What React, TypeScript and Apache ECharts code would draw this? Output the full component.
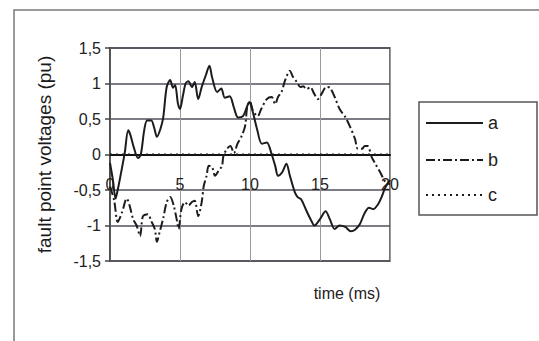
import React, { useEffect, useRef } from "react";
import * as echarts from "echarts";

const xTicks = [0, 5, 10, 15, 20];
const yTicks = [-1.5, -1, -0.5, 0, 0.5, 1, 1.5];

const aTime = [0.0, 0.2, 0.4, 0.55, 0.75, 1.05, 1.3, 1.45, 1.7, 2.0, 2.2, 2.45, 2.65, 2.95, 3.15, 3.35, 3.6, 3.8, 4.05, 4.3, 4.5, 4.65, 4.85, 5.0, 5.2, 5.4, 5.6, 5.85, 6.05, 6.3, 6.55, 6.85, 7.1, 7.3, 7.65, 7.95, 8.2, 8.55, 8.85, 9.15, 9.5, 9.8, 9.95, 10.2, 10.5, 10.85, 11.2, 11.55, 11.8, 12.0, 12.3, 12.6, 12.85, 13.2, 13.4, 13.65, 14.05, 14.4, 14.6, 15.0, 15.4, 15.7, 16.05, 16.4, 16.8, 17.2, 17.5, 17.85, 18.15, 18.5, 18.8, 19.15, 19.4, 19.65, 20.0];
const aValues = [-0.12, -0.35, -0.62, -0.5, -0.3, 0.02, 0.34, 0.28, 0.1, -0.05, 0.0, 0.35, 0.48, 0.48, 0.38, 0.25, 0.36, 0.52, 0.95, 1.05, 0.94, 0.98, 0.72, 0.64, 0.82, 1.0, 1.03, 0.95, 1.02, 0.78, 0.95, 1.12, 1.25, 1.08, 0.88, 0.93, 0.8, 0.82, 0.66, 0.52, 0.54, 0.68, 0.74, 0.6, 0.36, 0.15, 0.17, 0.0, -0.16, -0.3, -0.25, -0.13, -0.3, -0.53, -0.6, -0.63, -0.8, -0.94, -1.0, -0.91, -0.8, -0.91, -1.05, -1.0, -1.02, -1.08, -1.06, -0.98, -0.84, -0.75, -0.77, -0.7, -0.6, -0.47, -0.36];

const bTime = [0.0, 0.3, 0.55, 0.85, 1.2, 1.4, 1.65, 1.9, 2.15, 2.35, 2.7, 2.95, 3.2, 3.35, 3.55, 3.8, 4.05, 4.3, 4.55, 4.8, 4.9, 5.1, 5.35, 5.6, 5.85, 6.05, 6.3, 6.55, 6.7, 6.9, 7.05, 7.3, 7.5, 7.75, 8.0, 8.1, 8.35, 8.6, 8.85, 9.1, 9.4, 9.65, 9.8, 10.0, 10.2, 10.55, 10.8, 11.2, 11.55, 11.8, 12.0, 12.25, 12.5, 12.85, 13.05, 13.35, 13.6, 13.8, 14.05, 14.3, 14.6, 14.85, 15.1, 15.45, 15.7, 16.05, 16.4, 16.8, 17.15, 17.5, 17.7, 18.0, 18.2, 18.4, 18.7, 18.95, 19.3, 19.65, 20.0];
const bValues = [-0.45, -0.65, -0.95, -0.82, -0.62, -0.72, -0.91, -1.0, -1.15, -0.87, -0.84, -0.94, -1.05, -1.23, -1.09, -0.9, -0.67, -0.6, -0.72, -0.95, -1.05, -0.77, -0.67, -0.72, -0.67, -0.65, -0.87, -0.67, -0.44, -0.3, -0.16, -0.18, -0.3, -0.23, -0.16, -0.02, 0.08, 0.12, 0.02, 0.15, 0.26, 0.4, 0.67, 0.75, 0.62, 0.54, 0.64, 0.78, 0.81, 0.71, 0.81, 0.88, 1.04, 1.18, 1.1, 1.02, 0.95, 0.96, 0.92, 0.95, 0.85, 0.78, 0.85, 0.95, 0.94, 0.81, 0.64, 0.53, 0.39, 0.22, 0.08, 0.08, 0.12, 0.12, -0.04, -0.13, -0.25, -0.38, -0.42];

const cTime = [0, 5, 10, 15, 20];
const cValues = [0, 0, 0, 0, 0];

const seriesNames = ["a", "b", "c"];
const dashA: number[] | null = null;
const dashB = [9, 3, 2, 3];
const dashC = [2, 4];

const pairs = (t: number[], v: number[]) => t.map((x, i) => [x, v[i]]);

export default function App() {
  const ref = useRef<HTMLDivElement>(null);
  useEffect(() => {
    if (!ref.current) return;
    const chart = echarts.init(ref.current, null, { renderer: "svg" });
    const font = "'Liberation Sans', Arial, sans-serif";
    const ink = "#1c1c1c";
    const legendX = 426;
    const legendRows = [123, 160, 195];
    const dashes = [dashA, dashB, dashC];
    const legendGraphics: any[] = [
      {
        type: "rect",
        shape: { x: 419, y: 102, width: 118, height: 113 },
        style: { fill: "#fff", stroke: "#555", lineWidth: 1.5 },
        silent: true,
      },
    ];
    seriesNames.forEach((name, i) => {
      legendGraphics.push({
        type: "line",
        shape: { x1: legendX, y1: legendRows[i], x2: legendX + 57, y2: legendRows[i] },
        style: { stroke: ink, lineWidth: 2, lineDash: dashes[i] || undefined },
        silent: true,
      });
      legendGraphics.push({
        type: "text",
        x: legendX + 62,
        y: legendRows[i],
        style: {
          text: name,
          fontSize: 18,
          fill: "#222",
          fontFamily: font,
          textVerticalAlign: "middle",
        },
      });
    });
    chart.setOption({
      animation: false,
      backgroundColor: "#ffffff",
      textStyle: { fontFamily: font },
      grid: {
        left: 110,
        right: 149,
        top: 48,
        bottom: 80,
        show: true,
        borderColor: "#444",
        borderWidth: 1.5,
      },
      xAxis: {
        type: "value",
        min: xTicks[0],
        max: xTicks[xTicks.length - 1],
        interval: 5,
        offset: -106.5,
        axisLine: { show: true, onZero: false, lineStyle: { color: "#111", width: 2 } },
        axisTick: { show: false },
        axisLabel: { fontSize: 16, color: "#222", margin: 22, fontFamily: font },
        splitLine: { show: true, lineStyle: { color: "#9a9a9a", width: 1 } },
      },
      yAxis: {
        type: "value",
        min: yTicks[0],
        max: yTicks[yTicks.length - 1],
        interval: 0.5,
        name: "fault point voltages (pu)",
        nameLocation: "middle",
        nameGap: 56,
        nameTextStyle: { fontSize: 19, color: "#1a1a1a", fontFamily: font },
        axisLine: { show: true, onZero: false, lineStyle: { color: "#444", width: 1.5 } },
        axisTick: { show: true, length: 5, lineStyle: { color: "#444", width: 1.5 } },
        axisLabel: {
          fontSize: 16,
          color: "#222",
          margin: 9,
          fontFamily: font,
          formatter: (v: number) => String(v).replace(".", ","),
        },
        splitLine: { show: true, lineStyle: { color: "#50505c", width: 1.5 } },
      },
      graphic: [
        {
          type: "rect",
          shape: { x: 14, y: 10, width: 700, height: 500 },
          style: { fill: "none", stroke: "#7a7a7a", lineWidth: 1.5 },
          silent: true,
        },
        {
          type: "text",
          x: 347,
          y: 293,
          style: {
            text: "time (ms)",
            fontSize: 16,
            fill: "#222",
            fontFamily: font,
            textAlign: "center",
            textVerticalAlign: "middle",
          },
        },
        ...legendGraphics,
      ],
      series: [
        {
          name: seriesNames[0],
          type: "line",
          data: pairs(aTime, aValues),
          showSymbol: false,
          symbol: "none",
          smooth: 0.3,
          lineStyle: { color: ink, width: 2, type: "solid" },
          z: 4,
        },
        {
          name: seriesNames[1],
          type: "line",
          data: pairs(bTime, bValues),
          showSymbol: false,
          symbol: "none",
          smooth: 0.3,
          lineStyle: { color: ink, width: 2, type: dashB },
          z: 3,
        },
        {
          name: seriesNames[2],
          type: "line",
          data: pairs(cTime, cValues),
          showSymbol: false,
          symbol: "none",
          lineStyle: { color: ink, width: 2, type: dashC },
          z: 2,
        },
      ],
    });
    return () => chart.dispose();
  }, []);
  return (
    <div
      ref={ref}
      style={{ position: "fixed", left: 0, top: 0, width: 539, height: 341, background: "#fff" }}
    />
  );
}
